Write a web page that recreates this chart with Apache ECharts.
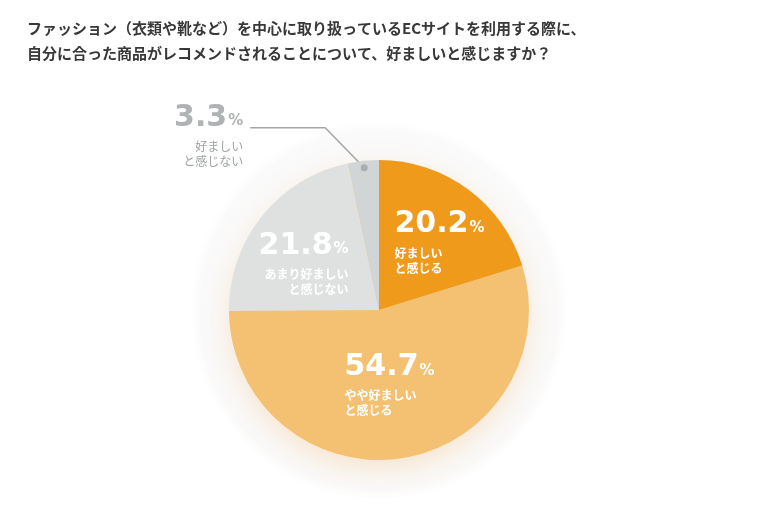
<!DOCTYPE html>
<html>
<head>
<meta charset="utf-8">
<script src="https://cdn.jsdelivr.net/npm/echarts@6/dist/echarts.min.js"></script>
<style>
  html, body { margin: 0; padding: 0; background: #fff; }
  #chart { width: 760px; height: 519px; }
</style>
</head>
<body>
<div id="chart"></div>
<script>
// データ
var TITLE_LINES = [
  'ファッション（衣類や靴など）を中心に取り扱っているECサイトを利用する際に、',
  '自分に合った商品がレコメンドされることについて、好ましいと感じますか？'
];
var CATEGORIES = ['好ましいと感じる', 'やや好ましいと感じる', 'あまり好ましいと感じない', '好ましいと感じない'];
var VALUES = [20.2, 54.7, 21.8, 3.3];
var LABEL_LINES = [
  ['好ましい', 'と感じる'],
  ['やや好ましい', 'と感じる'],
  ['あまり好ましい', 'と感じない'],
  ['好ましい', 'と感じない']
];

// 見た目
var COLORS = ['#ef9a1b', '#f4c173', '#dfe1e0', '#d2d5d5'];
var CENTER = [379, 310];
var RADIUS = 150;
var NUM_FONT = '"DejaVu Sans", sans-serif';
var JP_FONT = '"Noto Sans CJK JP", sans-serif';
// ラベル位置: [アンカー半径比, dx, dy, align]
var LABEL_POS = [
  [0.5, -29, -10, 'left'],
  [0.5, -46, -2, 'left'],
  [0.5, 28, -2, 'right'],
  [0.953, -121, -71, 'right']
];

var total = VALUES.reduce(function (a, b) { return a + b; }, 0);

function midValue(i) {
  var s = 0;
  for (var k = 0; k < i; k++) s += VALUES[k];
  return s + VALUES[i] / 2;
}

function anchorPoint(i, frac) {
  var ang = midValue(i) / total * Math.PI * 2;
  var r = RADIUS * frac;
  return [CENTER[0] + r * Math.sin(ang), CENTER[1] - r * Math.cos(ang)];
}

var chart = echarts.init(document.getElementById('chart'), null, { renderer: 'canvas' });

var pieData = CATEGORIES.map(function (name, i) {
  var item = {
    name: name,
    value: VALUES[i],
    itemStyle: { color: COLORS[i] }
  };
  if (i === 3) {
    item.label = {
      position: 'outside',
      rich: {
        num: { color: '#b0b3b3' },
        pct: { color: '#b0b3b3' },
        sub: { color: '#9ea2a2', fontWeight: 'normal' }
      }
    };
    item.labelLine = { show: true };
  }
  return item;
});

var option = {
  backgroundColor: '#ffffff',
  animation: false,
  title: {
    text: TITLE_LINES.join('\n'),
    left: 22,
    top: 11,
    textStyle: {
      fontFamily: JP_FONT,
      fontSize: 15,
      fontWeight: 'bold',
      color: '#383838',
      lineHeight: 25
    }
  },
  polar: { center: CENTER, radius: RADIUS },
  angleAxis: { type: 'value', min: 0, max: total, startAngle: 90, clockwise: true, show: false },
  radiusAxis: { type: 'value', min: 0, max: RADIUS, show: false },
  series: [
    {
      // 外側のうっすらした円
      type: 'pie',
      silent: true,
      z: 1,
      center: CENTER,
      radius: 180,
      label: { show: false },
      labelLine: { show: false },
      itemStyle: {
        color: '#fafafa',
        shadowBlur: 14,
        shadowColor: 'rgba(0,0,0,0.04)'
      },
      data: [{ value: 1 }]
    },
    {
      // 影用
      type: 'pie',
      silent: true,
      z: 2,
      center: CENTER,
      radius: RADIUS - 2,
      label: { show: false },
      labelLine: { show: false },
      itemStyle: {
        color: '#f4c173',
        shadowBlur: 30,
        shadowOffsetY: 10,
        shadowColor: 'rgba(240,160,60,0.25)'
      },
      data: [{ value: 1 }]
    },
    {
      type: 'pie',
      z: 3,
      center: CENTER,
      radius: RADIUS,
      startAngle: 90,
      clockwise: true,
      avoidLabelOverlap: false,
      emphasis: { disabled: true },
      label: {
        show: true,
        position: 'inside',
        formatter: function (p) {
          var lines = LABEL_LINES[p.dataIndex];
          return '{num|' + p.value.toFixed(1) + '}{pct|%}\n{sub|' + lines[0] + '}\n{sub|' + lines[1] + '}';
        },
        rich: {
          num: { fontFamily: NUM_FONT, fontSize: 30, fontWeight: 'bold', color: '#ffffff', lineHeight: 42 },
          pct: { fontFamily: NUM_FONT, fontSize: 15, fontWeight: 'bold', color: '#ffffff', lineHeight: 42, padding: [7, 0, 0, 1] },
          sub: { fontFamily: JP_FONT, fontSize: 12, fontWeight: 'bold', color: '#ffffff', lineHeight: 15 }
        }
      },
      labelLine: {
        show: false,
        lineStyle: { color: '#a3a7a7', width: 1.5 }
      },
      labelLayout: function (params) {
        var i = params.dataIndex;
        var pos = LABEL_POS[i];
        var a = anchorPoint(i, pos[0]);
        var res = {
          x: a[0] + pos[1],
          y: a[1] + pos[2],
          align: pos[3],
          verticalAlign: i === 3 ? 'top' : 'middle'
        };
        if (i === 3) {
          var elbow = [a[0] - 39, a[1] - 40];
          res.labelLinePoints = [a, elbow, [elbow[0] - 75, elbow[1]]];
        }
        return res;
      },
      data: pieData
    },
    {
      type: 'scatter',
      coordinateSystem: 'polar',
      z: 4,
      silent: true,
      symbolSize: 7,
      itemStyle: { color: '#a0a4a4' },
      data: [[RADIUS * LABEL_POS[3][0], midValue(3)]]
    }
  ]
};

chart.setOption(option);
</script>
</body>
</html>
